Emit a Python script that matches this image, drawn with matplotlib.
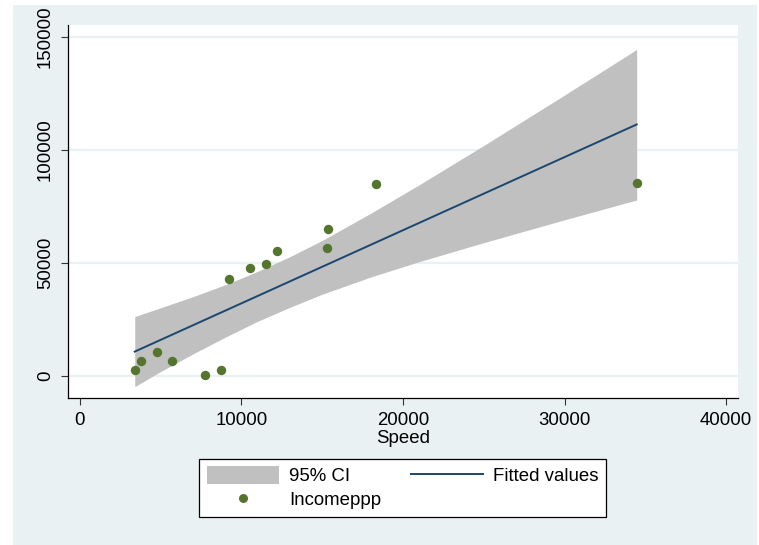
import matplotlib
matplotlib.use('Agg')
import matplotlib.pyplot as plt
from matplotlib.patches import Rectangle, Patch
from matplotlib.lines import Line2D

plt.rcParams['font.family'] = ['Liberation Sans', 'DejaVu Sans']

# observed data
speed = [3390, 3800, 4770, 5720, 7740, 8710, 9250, 10530, 11500, 12220,
         15290, 15380, 18330, 34470]
incomeppp = [2650, 6640, 10490, 6640, 580, 2650, 42920, 47920, 49700, 55170,
             56780, 64900, 85100, 85250]

# linear fit and its 95% confidence band
fit_speed = [3390, 34470]
fit_values = [10800, 111300]
ci_speed = [3390, 5000, 7000, 9000, 11000, 13000, 15000, 18000, 21000,
            25000, 30000, 34470]
ci_upper = [26300, 30200, 35100, 40400, 46300, 52800, 60000, 72000, 84600,
            102000, 124300, 144500]
ci_lower = [-4700, 2000, 9800, 17200, 24200, 30400, 36200, 43800, 50600,
            59000, 69100, 77900]

x_ticks = [0, 10000, 20000, 30000, 40000]
y_ticks = [0, 50000, 100000, 150000]

BG = '#EAF1F3'
CI_GREY = '#C0C0C0'
NAVY = '#1A476F'
GREEN = '#55752F'
FS = 13.4

W, H = 759, 545
fig = plt.figure(figsize=(W / 100, H / 100), dpi=100, facecolor='white')
fig.patches.append(Rectangle((13 / W, 0), (757 - 13) / W, 540 / H,
                             transform=fig.transFigure, facecolor=BG,
                             edgecolor='none', zorder=-5))

ax = fig.add_axes([68 / W, (H - 398) / H, 670 / W, 373 / H])
ax.set_zorder(1)
ax.set_facecolor('white')

ax.fill_between(ci_speed, ci_lower, ci_upper, color=CI_GREY, linewidth=0, zorder=2)
ax.plot(fit_speed, fit_values, color=NAVY, linewidth=1.4, zorder=3)
ax.scatter(speed, incomeppp, s=46, color=GREEN, linewidths=0, zorder=4)

ax.set_xlim(-743, 40743)
ax.set_ylim(-9735, 155310)
ax.set_xticks(x_ticks)
ax.set_yticks(y_ticks)
ax.grid(axis='y', color=BG, linewidth=1.6, zorder=1)
ax.set_axisbelow(True)

for side in ('top', 'right'):
    ax.spines[side].set_visible(False)
for side in ('left', 'bottom'):
    ax.spines[side].set_color('black')
    ax.spines[side].set_linewidth(0.9)

ax.tick_params(axis='both', length=5, width=0.8, color='#333333',
               labelsize=FS, pad=5)
ax.tick_params(axis='y', labelrotation=90)
for lbl in ax.get_yticklabels():
    lbl.set_va('center')

ax.set_xlabel('Speed', fontsize=FS, labelpad=1)

handles = [Patch(facecolor=CI_GREY, edgecolor='none'),
           Line2D([], [], marker='o', linestyle='none', color=GREEN,
                  markersize=6.5, markeredgewidth=0),
           Line2D([], [], color=NAVY, linewidth=1.4)]
labels = ['95% CI', 'Incomeppp', 'Fitted values']
leg = fig.legend(handles, labels, ncol=2, loc='upper center',
                 bbox_to_anchor=(402.5 / W, (H - 459) / H),
                 fontsize=FS, frameon=True, fancybox=False, framealpha=1,
                 handlelength=3.9, handleheight=1.05, handletextpad=0.5,
                 columnspacing=1.6, labelspacing=0.25, borderpad=0.4,
                 borderaxespad=0)
leg.get_frame().set_edgecolor('black')
leg.get_frame().set_linewidth(0.9)
leg.get_frame().set_facecolor('white')

fig.savefig('out.png', dpi=100, facecolor=fig.get_facecolor())
